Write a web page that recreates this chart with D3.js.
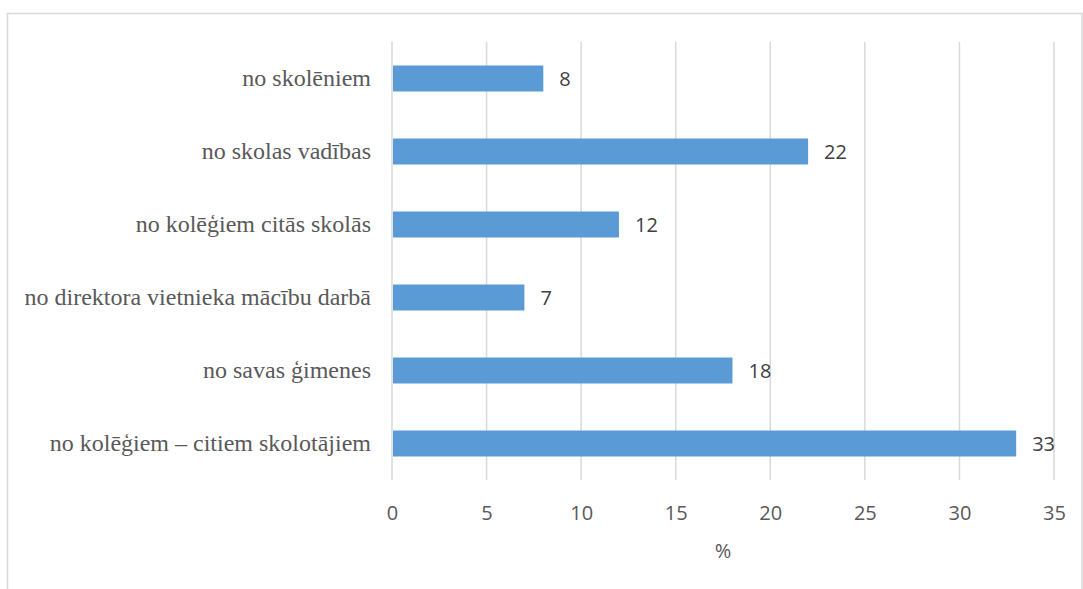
<!DOCTYPE html>
<html>
<head>
<meta charset="utf-8">
<script src="https://cdn.jsdelivr.net/npm/d3@7"></script>
<style>
  html, body { margin: 0; padding: 0; background: #fff; }
  svg { display: block; }
</style>
</head>
<body>
<svg id="chart" width="1083" height="589"></svg>
<script>
// Sources of support, percent of respondents (top to bottom)
const categories = [
  "no skolēniem",
  "no skolas vadības",
  "no kolēģiem citās skolās",
  "no direktora vietnieka mācību darbā",
  "no savas ģimenes",
  "no kolēģiem – citiem skolotājiem"
];
const values = [8, 22, 12, 7, 18, 33];
const xTicks = [0, 5, 10, 15, 20, 25, 30, 35];
const xTitle = "%";

const svg = d3.select("#chart");
const sans = "'Open Sans', Lato, sans-serif";

// chart frame
svg.append("rect")
  .attr("x", 7.5).attr("y", 13.5)
  .attr("width", 1074.5).attr("height", 600)
  .attr("fill", "none")
  .attr("stroke", "#d9d9d9")
  .attr("stroke-width", 1.5);

const plot = { left: 392, right: 1054, top: 42, bottom: 480 };

const x = d3.scaleLinear().domain([0, 35]).range([plot.left, plot.right]);
const y = d3.scaleBand().domain(categories)
  .range([plot.top, plot.bottom])
  .paddingInner(0.644).paddingOuter(0.322);

// vertical gridlines
svg.append("g")
  .selectAll("line")
  .data(xTicks)
  .join("line")
  .attr("x1", d => x(d)).attr("x2", d => x(d))
  .attr("y1", plot.top).attr("y2", plot.bottom)
  .attr("stroke", "#d9d9d9")
  .attr("stroke-width", 1.5);

// bars
svg.append("g")
  .selectAll("rect")
  .data(values)
  .join("rect")
  .attr("x", x(0) + 1)
  .attr("y", (d, i) => y(categories[i]))
  .attr("width", d => x(d) - x(0) - 1)
  .attr("height", y.bandwidth())
  .attr("fill", "#5b9bd5");

// value labels
svg.append("g")
  .selectAll("text")
  .data(values)
  .join("text")
  .attr("x", d => x(d) + 16)
  .attr("y", (d, i) => y(categories[i]) + y.bandwidth() / 2)
  .attr("dy", "0.36em")
  .attr("font-family", sans)
  .attr("font-size", 20)
  .attr("fill", "#404040")
  .text(d => d);

// category axis labels
svg.append("g")
  .selectAll("text")
  .data(categories)
  .join("text")
  .attr("x", plot.left - 21)
  .attr("y", d => y(d) + y.bandwidth() / 2)
  .attr("dy", "0.32em")
  .attr("text-anchor", "end")
  .attr("font-family", "'Liberation Serif', 'Times New Roman', serif")
  .attr("font-size", 24)
  .attr("fill", "#595959")
  .text(d => d);

// value axis tick labels
const xAxis = d3.axisBottom(x).tickValues(xTicks).tickSize(0).tickPadding(0);
const ax = svg.append("g")
  .attr("transform", `translate(0,${plot.bottom})`)
  .call(xAxis);
ax.select(".domain").remove();
ax.selectAll("text")
  .attr("y", 40)
  .attr("dy", 0)
  .attr("font-family", sans)
  .attr("font-size", 20)
  .attr("fill", "#595959");

// axis title
svg.append("text")
  .attr("x", (plot.left + plot.right) / 2)
  .attr("y", 558)
  .attr("text-anchor", "middle")
  .attr("font-family", sans)
  .attr("font-size", 20)
  .attr("fill", "#595959")
  .text(xTitle);
</script>
</body>
</html>
